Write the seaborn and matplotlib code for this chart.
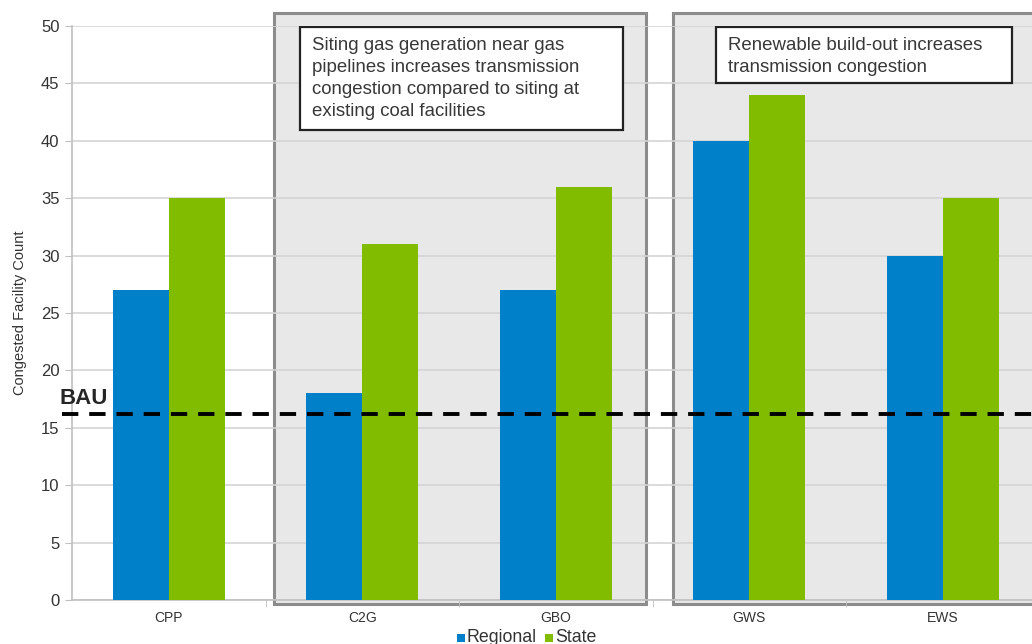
import matplotlib
matplotlib.use("Agg")
import matplotlib.pyplot as plt
from matplotlib.patches import Rectangle
import seaborn as sns
import pandas as pd

# Congested facility counts per scenario
scenarios = ["CPP", "C2G", "GBO", "GWS", "EWS"]
regional = [27, 18, 27, 40, 30]
state = [35, 31, 36, 44, 35]
bau_level = 16.2
series_names = ["Regional", "State"]
colors = {"Regional": "#0080C8", "State": "#82BC00"}
y_ticks = [0, 5, 10, 15, 20, 25, 30, 35, 40, 45, 50]
note_gas = ("Siting gas generation near gas\npipelines increases transmission\n"
            "congestion compared to siting at\nexisting coal facilities")
note_renew = "Renewable build-out increases\ntransmission congestion"

df = pd.DataFrame({
    "Scenario": scenarios * 2,
    "Series": [series_names[0]] * len(scenarios) + [series_names[1]] * len(scenarios),
    "Count": regional + state,
})

sns.set_style("white")
plt.rcParams["font.family"] = ["Liberation Sans", "DejaVu Sans"]

W, H = 1032, 644
fig = plt.figure(figsize=(W / 100, H / 100), dpi=100)
ax = fig.add_axes([72 / W, 44 / H, 967.5 / W, 574 / H])

sns.barplot(data=df, x="Scenario", y="Count", hue="Series", order=scenarios,
            hue_order=series_names, palette=colors, width=0.58, saturation=1,
            ax=ax, legend=False, zorder=3, linewidth=0)

ax.set_xlim(-0.5, 4.5)
ax.set_ylim(0, 50)
ax.set_yticks(y_ticks)
ax.yaxis.grid(True, color="#d4d4d4", linewidth=1.2, zorder=1)
ax.set_axisbelow(True)

# shaded scenario groups
box_kw = dict(facecolor="#e8e8e8", edgecolor="#8c8c8c", linewidth=2.2,
              clip_on=False, zorder=0.5)
ax.add_patch(Rectangle((0.544, -0.35), 1.922, 51.45, **box_kw))
ax.add_patch(Rectangle((2.606, -0.35), 2.1, 51.45, **box_kw))

# business-as-usual reference line
ax.plot([-0.55, 4.5], [bau_level, bau_level], color="black", linewidth=2.8,
        dashes=(4.2, 2.8), zorder=5, clip_on=False)
ax.text(-0.565, bau_level + 0.45, "BAU", fontsize=16, fontweight="bold",
        ha="left", va="bottom", zorder=6, clip_on=False)

# annotation boxes
frame_kw = dict(facecolor="white", edgecolor="#222222", linewidth=1.6, zorder=7)
ax.add_patch(Rectangle((0.678, 40.94), 1.67, 8.96, **frame_kw))
ax.add_patch(Rectangle((2.828, 45.03), 1.53, 4.87, **frame_kw))
note_kw = dict(fontsize=13.4, color="#383838", ha="left", va="top", zorder=8,
               linespacing=1.38)
ax.text(0.738, 49.0, note_gas, **note_kw)
ax.text(2.888, 49.0, note_renew, **note_kw)

for s in ["top", "right"]:
    ax.spines[s].set_visible(False)
for s in ["left", "bottom"]:
    ax.spines[s].set_color("#c0c0c0")
    ax.spines[s].set_linewidth(1.2)
ax.spines["bottom"].set_zorder(2)

ax.tick_params(axis="y", length=5, color="#c0c0c0", labelsize=12,
               labelcolor="#333333", left=True, pad=4)
ax.tick_params(axis="x", length=0, labelsize=10, labelcolor="#333333", pad=8)
ax.set_xticks([0.5, 1.5, 2.5, 3.5], minor=True)
ax.tick_params(axis="x", which="minor", length=5, color="#c0c0c0", bottom=True)
ax.set_xlabel("")
ax.set_ylabel("Congested Facility Count", fontsize=10.5, color="#333333",
              labelpad=10)

# legend: coloured squares with baseline-aligned labels
leg_y = 1 - 642 / H
for name, x_sq, x_txt in [("Regional", 457, 467), ("State", 545, 555)]:
    fig.patches.append(Rectangle((x_sq / W, leg_y), 8 / W, 8 / H,
                                 transform=fig.transFigure,
                                 facecolor=colors[name], edgecolor="none"))
    fig.text(x_txt / W, leg_y, name, fontsize=12.8, color="#333333",
             ha="left", va="baseline")

fig.savefig("out.png", dpi=100)
